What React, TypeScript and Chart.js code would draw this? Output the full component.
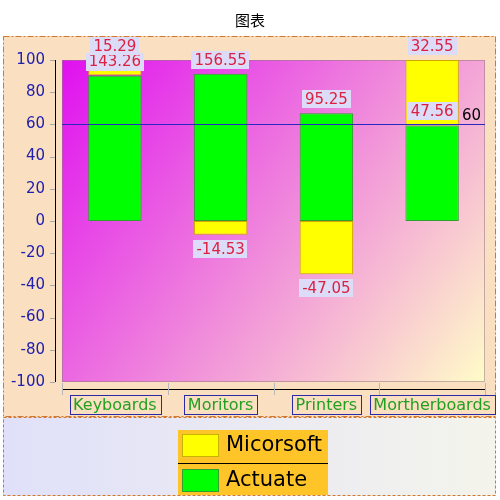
import React, { useEffect, useRef } from "react";
import { Chart, registerables } from "chart.js";

Chart.register(...registerables);

const TITLE = "图表";
const CATEGORIES = ["Keyboards", "Moritors", "Printers", "Mortherboards"];
const MICORSOFT = [15.29, -14.53, -47.05, 32.55];
const ACTUATE = [143.26, 156.55, 95.25, 47.56];
const SERIES_NAMES = ["Micorsoft", "Actuate"];
const Y_MIN = -100;
const Y_MAX = 100;
const Y_STEP = 20;
const MARKER_VALUE = 60;

const FONT = "'DejaVu Sans', sans-serif";

function percentOf(values: number[], others: number[]): number[] {
  return values.map((v, i) => (v / (Math.abs(v) + Math.abs(others[i]))) * 100);
}

export default function App() {
  const ref = useRef<HTMLCanvasElement | null>(null);

  useEffect(() => {
    const canvas = ref.current;
    if (!canvas) return;

    const decor = {
      id: "decor",
      beforeDraw(chart: any) {
        const ctx = chart.ctx as CanvasRenderingContext2D;
        const ca = chart.chartArea;
        ctx.save();
        ctx.fillStyle = "#ffffff";
        ctx.fillRect(0, 0, chart.width, chart.height);

        // title
        ctx.fillStyle = "#000";
        ctx.font = `15px 'Noto Sans CJK SC', ${FONT}`;
        ctx.textAlign = "center";
        ctx.textBaseline = "middle";
        ctx.fillText(TITLE, 250, 20);

        // plot block
        ctx.fillStyle = "#fadfc0";
        ctx.fillRect(3, 36, 493, 381);
        ctx.strokeStyle = "#d2782c";
        ctx.lineWidth = 1;
        ctx.setLineDash([6, 2, 2, 2]);
        ctx.strokeRect(3.5, 36.5, 492, 380);

        // legend block
        const lg = ctx.createLinearGradient(3, 0, 496, 0);
        lg.addColorStop(0, "#e0e0fa");
        lg.addColorStop(1, "#f4f4ec");
        ctx.fillStyle = lg;
        ctx.fillRect(3, 417, 493, 79);
        ctx.setLineDash([3, 2]);
        ctx.strokeRect(3.5, 417.5, 492, 78);
        ctx.setLineDash([]);

        // plot area
        const g = ctx.createLinearGradient(ca.left, ca.top, ca.right, ca.bottom);
        g.addColorStop(0, "#e010f0");
        g.addColorStop(1, "#fffcc8");
        ctx.fillStyle = g;
        ctx.fillRect(ca.left, ca.top, ca.right - ca.left, ca.bottom - ca.top);
        ctx.strokeStyle = "rgba(150,120,130,0.55)";
        ctx.strokeRect(ca.left + 0.5, ca.top + 0.5, ca.right - ca.left - 1, ca.bottom - ca.top - 1);

        // y axis line & ticks
        const y = chart.scales.y;
        ctx.strokeStyle = "#000";
        ctx.beginPath();
        ctx.moveTo(55.5, y.getPixelForValue(Y_MAX));
        ctx.lineTo(55.5, y.getPixelForValue(Y_MIN));
        ctx.stroke();
        ctx.strokeStyle = "#a8a8a8";
        ctx.beginPath();
        for (let v = Y_MIN; v <= Y_MAX; v += Y_STEP) {
          const py = Math.round(y.getPixelForValue(v)) + 0.5;
          ctx.moveTo(50, py);
          ctx.lineTo(55, py);
        }
        ctx.stroke();

        // x axis line & ticks
        const x = chart.scales.x;
        ctx.strokeStyle = "#000";
        ctx.beginPath();
        ctx.moveTo(ca.left, 389.5);
        ctx.lineTo(ca.right, 389.5);
        ctx.stroke();
        ctx.strokeStyle = "#b8b8b8";
        ctx.beginPath();
        for (let i = 0; i <= CATEGORIES.length; i++) {
          let px: number;
          if (i === 0) px = ca.left;
          else if (i === CATEGORIES.length) px = ca.right;
          else px = (x.getPixelForValue(i - 1) + x.getPixelForValue(i)) / 2;
          px = Math.round(px) + 0.5;
          ctx.moveTo(px, ca.bottom + 1);
          ctx.lineTo(px, 395);
        }
        ctx.stroke();
        ctx.restore();
      },
      afterDatasetsDraw(chart: any) {
        const ctx = chart.ctx as CanvasRenderingContext2D;
        const ca = chart.chartArea;
        const y = chart.scales.y;
        const x = chart.scales.x;
        ctx.save();

        // marker line
        const my = Math.round(y.getPixelForValue(MARKER_VALUE)) + 0.5;
        ctx.strokeStyle = "#2828c0";
        ctx.lineWidth = 1;
        ctx.beginPath();
        ctx.moveTo(ca.left, my);
        ctx.lineTo(ca.right, my);
        ctx.stroke();
        ctx.fillStyle = "#000";
        ctx.font = `15px ${FONT}`;
        ctx.textAlign = "right";
        ctx.textBaseline = "alphabetic";
        ctx.fillText(String(MARKER_VALUE), ca.right - 4, my - 5);

        // data labels
        const raw = [ACTUATE, MICORSOFT];
        ctx.font = `15px ${FONT}`;
        ctx.textAlign = "center";
        ctx.textBaseline = "middle";
        for (let d = 0; d < 2; d++) {
          const meta = chart.getDatasetMeta(d);
          meta.data.forEach((bar: any, i: number) => {
            const val = raw[d][i];
            const txt = val.toFixed(2);
            const w = ctx.measureText(txt).width + 6;
            const h = 18;
            const cx = bar.x;
            let top: number;
            if (val >= 0) top = Math.min(bar.y, bar.base) - 5 - h;
            else top = Math.max(bar.y, bar.base) + 5;
            ctx.fillStyle = "#dcdcf8";
            ctx.fillRect(Math.round(cx - w / 2), Math.round(top), Math.round(w), h);
            ctx.fillStyle = "#dc2040";
            ctx.fillText(txt, cx, top + h / 2 + 1);
          });
        }

        // category labels
        ctx.font = `16px ${FONT}`;
        CATEGORIES.forEach((c, i) => {
          const cx = x.getPixelForValue(i);
          const w = ctx.measureText(c).width + 7;
          const left = Math.round(cx - w / 2) + 0.5;
          ctx.strokeStyle = "#2a2aa8";
          ctx.strokeRect(left, 395.5, Math.round(w), 19);
          ctx.fillStyle = "#22a022";
          ctx.fillText(c, cx, 405.5);
        });

        // legend
        ctx.fillStyle = "#ffc428";
        ctx.fillRect(178, 430, 150, 65);
        const items = [
          { name: SERIES_NAMES[0], fill: "#ffff00", border: "#c8b400" },
          { name: SERIES_NAMES[1], fill: "#00ff00", border: "#30a030" },
        ];
        items.forEach((it, k) => {
          const top = k === 0 ? 434 : 469;
          ctx.fillStyle = it.fill;
          ctx.fillRect(182, top, 37, 23);
          ctx.strokeStyle = it.border;
          ctx.strokeRect(182.5, top + 0.5, 36, 22);
          ctx.fillStyle = "#000";
          ctx.font = `21px ${FONT}`;
          ctx.textAlign = "left";
          ctx.textBaseline = "middle";
          ctx.fillText(it.name, 226, top + 12);
        });
        ctx.strokeStyle = "#000";
        ctx.beginPath();
        ctx.moveTo(178, 463.5);
        ctx.lineTo(328, 463.5);
        ctx.stroke();
        ctx.restore();
      },
    };

    const chart = new Chart(canvas, {
      type: "bar",
      data: {
        labels: CATEGORIES,
        datasets: [
          {
            label: SERIES_NAMES[1],
            data: percentOf(ACTUATE, MICORSOFT),
            backgroundColor: "#00ff00",
            borderColor: "#30a030",
            borderWidth: 1,
            borderSkipped: false,
          },
          {
            label: SERIES_NAMES[0],
            data: percentOf(MICORSOFT, ACTUATE),
            backgroundColor: "#ffff00",
            borderColor: "#d0a800",
            borderWidth: 1,
            borderSkipped: false,
          },
        ],
      },
      options: {
        animation: false,
        responsive: false,
        maintainAspectRatio: false,
        layout: { padding: { top: 60, right: 15, bottom: 118, left: 0 } },
        datasets: { bar: { categoryPercentage: 1, barPercentage: 0.505 } },
        plugins: { legend: { display: false }, tooltip: { enabled: false }, title: { display: false } },
        scales: {
          x: { type: "category", display: false, stacked: true, offset: true },
          y: {
            stacked: true,
            min: Y_MIN,
            max: Y_MAX,
            afterFit(scale: any) {
              scale.width = 62;
            },
            grid: { display: false, drawTicks: false },
            border: { display: false },
            ticks: {
              stepSize: Y_STEP,
              padding: 17,
              color: "#2020b0",
              font: { family: FONT, size: 15 },
            },
          },
        },
      },
      plugins: [decor],
    } as any);

    return () => chart.destroy();
  }, []);

  return (
    <div style={{ position: "fixed", left: 0, top: 0, width: 500, height: 500 }}>
      <canvas ref={ref} width={500} height={500} style={{ width: 500, height: 500, display: "block" }} />
    </div>
  );
}
